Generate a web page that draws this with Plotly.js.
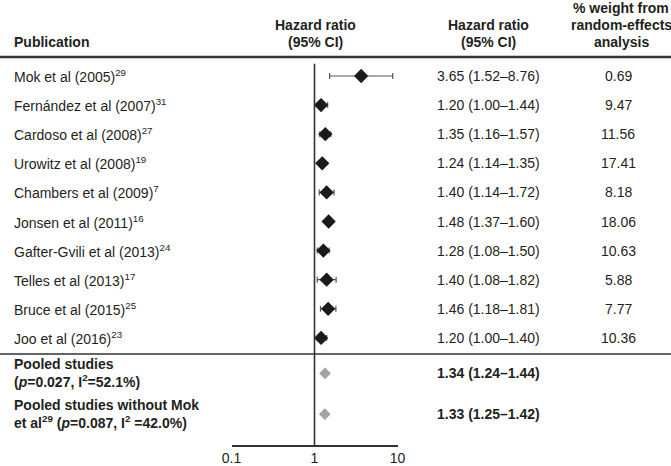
<!DOCTYPE html>
<html>
<head>
<meta charset="utf-8">
<script src="https://cdn.plot.ly/plotly-3.0.1.min.js"></script>
<style>html,body{margin:0;padding:0;background:#fff;}#chart{width:671px;height:466px;}</style>
</head>
<body>
<div id="chart"></div>
<script>
// ---- data ----
var studies = ['Mok et al (2005)', 'Fernández et al (2007)', 'Cardoso et al (2008)', 'Urowitz et al (2008)',
  'Chambers et al (2009)', 'Jonsen et al (2011)', 'Gafter-Gvili et al (2013)', 'Telles et al (2013)',
  'Bruce et al (2015)', 'Joo et al (2016)'];
var refs = ['29', '31', '27', '19', '7', '16', '24', '17', '25', '23'];
var hr = [3.65, 1.20, 1.35, 1.24, 1.40, 1.48, 1.28, 1.40, 1.46, 1.20];
var ciLow = [1.52, 1.00, 1.16, 1.14, 1.14, 1.37, 1.08, 1.08, 1.18, 1.00];
var ciHigh = [8.76, 1.44, 1.57, 1.35, 1.72, 1.60, 1.50, 1.82, 1.81, 1.40];
var weights = ['0.69', '9.47', '11.56', '17.41', '8.18', '18.06', '10.63', '5.88', '7.77', '10.36'];

var pooledLabels = ['Pooled studies<br>(<i>p</i>=0.027, I<sup>2</sup>=52.1%)',
  'Pooled studies without Mok<br>et al<sup>29</sup> (<i>p</i>=0.087, I<sup>2</sup> =42.0%)'];
var pooledHR = [1.34, 1.33];
var pooledLow = [1.24, 1.25];
var pooledHigh = [1.44, 1.42];

var xTicks = [0.1, 1, 10];
var xTickText = ['0.1', '1', '10'];

// ---- layout helpers ----
var W = 671, H = 466;
var FONT = 'Liberation Sans, Arial, sans-serif';
var TXT = '#231f20';
function px(x) { return x / W; }
function py(y) { return 1 - y / H; }
function fmt(v) { return v.toFixed(2); }

var n = studies.length;
var rowY = studies.map(function (_, i) { return i; });
var pooledY = [n + 0.22, n + 1.62];

var traces = [
  {
    type: 'scatter', mode: 'markers', x: hr, y: rowY,
    marker: { symbol: 'diamond', size: 11, color: '#1a1a1a' },
    error_x: {
      type: 'data', symmetric: false,
      array: hr.map(function (v, i) { return ciHigh[i] - v; }),
      arrayminus: hr.map(function (v, i) { return v - ciLow[i]; }),
      color: '#555', thickness: 1.2, width: 3
    },
    hoverinfo: 'skip', showlegend: false
  },
  {
    type: 'scatter', mode: 'markers', x: pooledHR, y: pooledY,
    marker: { symbol: 'diamond', size: 9, color: '#a3a3a3' },
    hoverinfo: 'skip', showlegend: false
  }
];

var ann = [];
function addText(text, x, y, xanchor, opts) {
  ann.push({
    text: text, x: x, y: y, xref: 'paper', yref: opts && opts.yref ? opts.yref : 'y',
    xanchor: xanchor, yanchor: 'middle', showarrow: false, align: xanchor === 'left' ? 'left' : 'center',
    font: { family: FONT, size: 14, color: TXT }
  });
}
// headers
addText('<b>Publication</b>', px(12), py(42), 'left', { yref: 'paper' });
addText('<b>Hazard ratio</b>', px(315), py(25), 'center', { yref: 'paper' });
addText('<b>(95% CI)</b>', px(315), py(42), 'center', { yref: 'paper' });
addText('<b>Hazard ratio</b>', px(488), py(25), 'center', { yref: 'paper' });
addText('<b>(95% CI)</b>', px(488), py(42), 'center', { yref: 'paper' });
addText('<b>% weight from</b>', px(621), py(8), 'center', { yref: 'paper' });
addText('<b>random-effects</b>', px(621), py(25), 'center', { yref: 'paper' });
addText('<b>analysis</b>', px(621), py(42), 'center', { yref: 'paper' });

// study rows
studies.forEach(function (s, i) {
  addText(s + '<sup>' + refs[i] + '</sup>', px(12), rowY[i], 'left');
  addText(fmt(hr[i]) + ' (' + fmt(ciLow[i]) + '–' + fmt(ciHigh[i]) + ')', px(488), rowY[i], 'center');
  addText(weights[i], px(618), rowY[i], 'center');
});
// pooled rows
pooledLabels.forEach(function (s, i) {
  addText('<b>' + s + '</b>', px(12), pooledY[i], 'left');
  addText('<b>' + fmt(pooledHR[i]) + ' (' + fmt(pooledLow[i]) + '–' + fmt(pooledHigh[i]) + ')</b>', px(488), pooledY[i], 'center');
});

var axisBottom = 445;
var rowTop = 76, rowStep = 29.1;
var yBottom = (axisBottom - rowTop) / rowStep;
var yTop = (0 - rowTop) / rowStep;

var shapes = [
  { type: 'line', xref: 'paper', yref: 'paper', x0: 0, x1: 1, y0: py(57), y1: py(57), line: { color: '#333', width: 2.5 } },
  { type: 'line', xref: 'paper', yref: 'paper', x0: 0, x1: 1, y0: py(354), y1: py(354), line: { color: '#333', width: 1.5 } },
  { type: 'line', xref: 'x', yref: 'y', x0: 1, x1: 1, y0: -0.42, y1: yBottom, line: { color: '#333', width: 1.6 } }
];

var layout = {
  width: W, height: H,
  margin: { l: 0, r: 0, t: 0, b: 0, pad: 0 },
  paper_bgcolor: '#fff', plot_bgcolor: 'rgba(0,0,0,0)',
  showlegend: false,
  xaxis: {
    type: 'log', range: [-1, 1], domain: [px(231.5), px(397.5)],
    tickvals: xTicks, ticktext: xTickText,
    ticks: 'inside', ticklen: 7, tickwidth: 1.5, tickcolor: '#333',
    showline: true, linecolor: '#333', linewidth: 1.5,
    showgrid: false, zeroline: false, fixedrange: true,
    tickfont: { family: FONT, size: 14, color: TXT },
    anchor: 'y'
  },
  yaxis: {
    range: [yBottom, yTop], domain: [1 - axisBottom / H, 1],
    visible: false, showgrid: false, zeroline: false, fixedrange: true
  },
  annotations: ann,
  shapes: shapes
};

Plotly.newPlot('chart', traces, layout, { staticPlot: true, displayModeBar: false });
</script>
</body>
</html>
